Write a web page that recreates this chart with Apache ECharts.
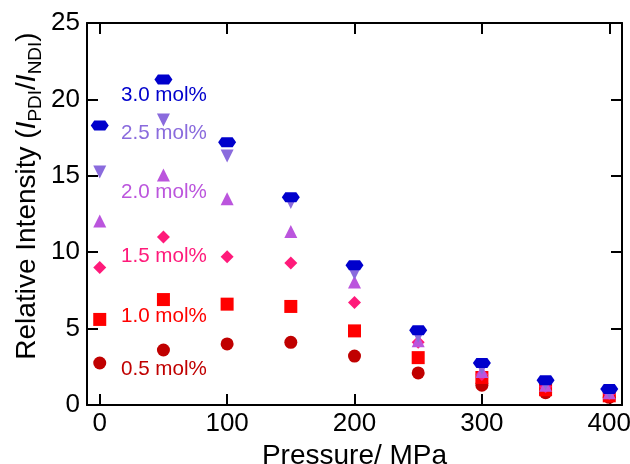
<!DOCTYPE html>
<html>
<head>
<meta charset="utf-8">
<script src="https://cdn.jsdelivr.net/npm/echarts@6/dist/echarts.min.js"></script>
<style>
html,body{margin:0;padding:0;background:#fff;}
#chart{width:630px;height:464px;}
</style>
</head>
<body>
<div id="chart"></div>
<script>
var pressures = [0, 50, 100, 150, 200, 250, 300, 350, 400];
var seriesNames = ['0.5 mol%', '1.0 mol%', '1.5 mol%', '2.0 mol%', '2.5 mol%', '3.0 mol%'];
var vals05 = [2.75, 3.6, 4.0, 4.1, 3.2, 2.1, 1.3, 0.8, 0.5];
var vals10 = [5.6, 6.9, 6.6, 6.45, 4.85, 3.1, 1.8, 1.0, 0.6];
var vals15 = [9.0, 11.0, 9.7, 9.3, 6.7, 4.1, 2.0, 1.2, 0.75];
var vals20 = [12.05, 15.05, 13.5, 11.35, 8.05, 4.2, 2.2, 1.3, 0.8];
var vals25 = [15.25, 18.65, 16.3, 13.25, 8.6, 4.5, 2.4, 1.4, 0.85];
var vals30 = [18.3, 21.3, 17.2, 13.6, 9.15, 4.9, 2.75, 1.62, 1.05];
var xTicks = [0, 100, 200, 300, 400];
var yTicks = [0, 5, 10, 15, 20, 25];

var allVals = [vals05, vals10, vals15, vals20, vals25, vals30];
var colors = ['#C00000', '#FF0000', '#FF1A7A', '#BB55DD', '#8A6BDD', '#0000CC'];
var hexPath = 'path://M0,5 L3.5,0 L14.5,0 L18,5 L14.5,10 L3.5,10 Z';
var symbols = ['circle', 'rect', 'diamond', 'triangle', 'triangle', hexPath];
var rotates = [0, 0, 0, 0, 180, 0];
var sizes = [13, 13, 13, 13, 13, [18, 10]];
var labelY = [369, 316, 256, 192, 133, 95];

var chart = echarts.init(document.getElementById('chart'));
var font = 'Liberation Sans, Arial, sans-serif';
var lineStyle = {color: '#000', width: 2};
var tickStyle = {show: true, inside: true, length: 11, lineStyle: {color: '#000', width: 2}};

var series = allVals.map(function (v, i) {
  return {
    type: 'scatter',
    name: seriesNames[i],
    data: pressures.map(function (p, j) { return [p, v[j]]; }),
    symbol: symbols[i],
    symbolRotate: rotates[i],
    symbolSize: sizes[i],
    itemStyle: {color: colors[i], opacity: 1},
    z: 2 + i
  };
});

var graphics = seriesNames.map(function (n, i) {
  return {
    type: 'text', x: 121, y: labelY[i], z: 100,
    style: {text: n, fill: colors[i], font: '20.6px ' + font, align: 'left', verticalAlign: 'middle'}
  };
});
graphics.push({
  type: 'text', x: 27, y: 196, rotation: Math.PI / 2, z: 100,
  style: {
    text: '{n|Relative Intensity (}{i|I}{s|PDI}{n|/}{i|I}{s|NDI}{n|)}',
    align: 'center', verticalAlign: 'middle',
    rich: {
      n: {fontSize: 28, fontFamily: font, fill: '#000', lineHeight: 36},
      i: {fontSize: 28, fontFamily: font, fontStyle: 'italic', fill: '#000', lineHeight: 36},
      s: {fontSize: 19, fontFamily: font, fill: '#000', lineHeight: 19, verticalAlign: 'bottom'}
    }
  }
});

chart.setOption({
  animation: false,
  backgroundColor: '#fff',
  grid: {left: 87, right: 8, top: 23, bottom: 59, outerBoundsMode: 'none'},
  xAxis: [{
    type: 'value', min: -10, max: 410, position: 'bottom',
    name: 'Pressure/ MPa', nameLocation: 'middle', nameGap: 31,
    nameTextStyle: {fontSize: 28, fontFamily: font, color: '#000'},
    axisLine: {show: true, onZero: false, lineStyle: lineStyle},
    axisTick: {show: true, inside: true, length: 11, lineStyle: {color: '#000', width: 2}, customValues: xTicks},
    axisLabel: {fontSize: 26, fontFamily: font, color: '#000', margin: 6, customValues: xTicks},
    splitLine: {show: false}
  }, {
    type: 'value', min: -10, max: 410, position: 'top',
    axisLine: {show: true, onZero: false, lineStyle: lineStyle},
    axisTick: {show: true, inside: true, length: 11, lineStyle: {color: '#000', width: 2}, customValues: xTicks},
    axisLabel: {show: false},
    splitLine: {show: false}
  }],
  yAxis: [{
    type: 'value', min: 0, max: 25, interval: 5, position: 'left',
    axisLine: {show: true, onZero: false, lineStyle: lineStyle},
    axisTick: tickStyle,
    axisLabel: {fontSize: 26, fontFamily: font, color: '#000', margin: 7, customValues: yTicks},
    splitLine: {show: false}
  }, {
    type: 'value', min: 0, max: 25, interval: 5, position: 'right',
    axisLine: {show: true, onZero: false, lineStyle: lineStyle},
    axisTick: tickStyle,
    axisLabel: {show: false},
    splitLine: {show: false}
  }],
  series: series,
  graphic: graphics
});
</script>
</body>
</html>
